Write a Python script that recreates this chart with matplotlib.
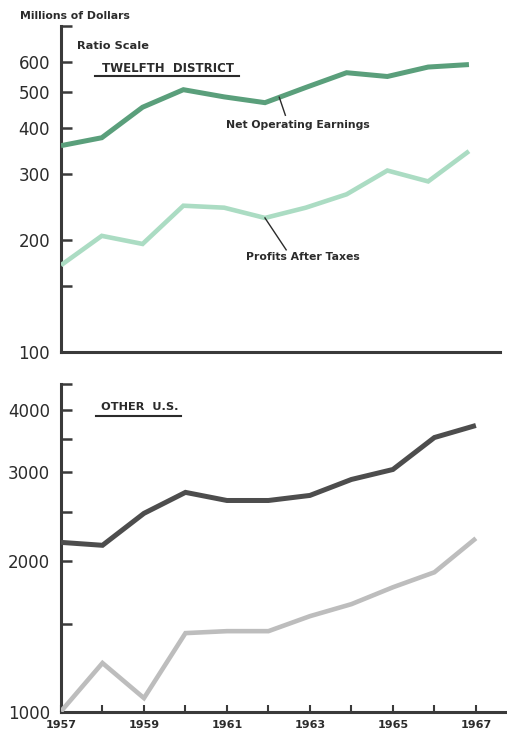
import numpy as np
import matplotlib
matplotlib.use("Agg")
import matplotlib.pyplot as plt
from matplotlib.ticker import NullLocator, FixedLocator, FixedFormatter

years = list(range(1957, 1968))

# Twelfth District, millions of dollars
twelfth_net = [358, 376, 454, 506, 484, 467, 513, 562, 549, 582, 591]
twelfth_profit = [171, 205, 195, 247, 244, 229, 244, 265, 307, 287, 346]

# Other U.S., millions of dollars
other_net = [2177, 2148, 2487, 2738, 2638, 2638, 2700, 2905, 3041, 3521, 3721]
other_profit = [1003, 1252, 1066, 1436, 1449, 1449, 1552, 1640, 1772, 1898, 2218]

top_ticks = [100, 150, 200, 300, 400, 500, 600, 750]
top_labels = ["100", "", "200", "300", "400", "500", "600", ""]
bot_ticks = [1000, 1500, 2000, 2500, 3000, 3500, 4000, 4500]
bot_labels = ["1000", "", "2000", "", "3000", "", "4000", ""]

axis_col = "#3a3a3a"
text_col = "#2b2b2b"

fig = plt.figure(figsize=(5.07, 7.33), dpi=100)
ax1 = fig.add_axes([0.1203, 0.5198, 0.865, 0.4447])
ax2 = fig.add_axes([0.1203, 0.0286, 0.8797, 0.4475])


def style(ax, ticks, labels, lo, hi):
    ax.set_yscale("log")
    ax.set_ylim(lo, hi)
    ax.set_xlim(1957, 1967.75)
    ax.yaxis.set_major_locator(FixedLocator(ticks))
    ax.yaxis.set_major_formatter(FixedFormatter(labels))
    ax.yaxis.set_minor_locator(NullLocator())
    for s in ["top", "right"]:
        ax.spines[s].set_visible(False)
    for s in ["left", "bottom"]:
        ax.spines[s].set_color(axis_col)
        ax.spines[s].set_linewidth(2.2)
    ax.tick_params(axis="y", direction="in", length=8, width=1.8,
                   color=axis_col, labelsize=12, labelcolor=text_col, pad=8)


style(ax1, top_ticks, top_labels, 100, 750)
style(ax2, bot_ticks, bot_labels, 1000, 4500)

ax1.tick_params(axis="x", length=0, labelbottom=False)
ax2.set_xticks(years)
ax2.set_xticklabels([str(y) if y % 2 == 1 else "" for y in years],
                    fontsize=8, fontweight="bold", color=text_col)
ax2.tick_params(axis="x", direction="in", length=5, width=1.5,
                color=axis_col, pad=6)

# lines
ax1.plot(years, twelfth_net, color="#5a9f7b", lw=3.6, solid_joinstyle="miter",
         solid_capstyle="butt", zorder=3)
ax1.plot(years, twelfth_profit, color="#abdcc3", lw=3.3, solid_joinstyle="miter",
         solid_capstyle="butt", zorder=3)
ax2.plot(years, other_net, color="#4d4d4d", lw=3.6, solid_joinstyle="miter",
         solid_capstyle="butt", zorder=3)
ax2.plot(years, other_profit, color="#bdbdbd", lw=3.3, solid_joinstyle="miter",
         solid_capstyle="butt", zorder=3)

# headings
fig.text(20 / 507, 1 - 16 / 733, "Millions of Dollars", fontsize=7.8,
         fontweight="bold", color=text_col, va="center")
ax1.text(0.037, 0.94, "Ratio Scale", transform=ax1.transAxes, fontsize=8.2,
         fontweight="bold", color=text_col, va="center")
ax1.text(0.093, 0.87, "TWELFTH  DISTRICT", transform=ax1.transAxes, fontsize=8.5,
         fontweight="bold", color=text_col, va="center")
ax1.plot([0.078, 0.405], [0.846, 0.846], transform=ax1.transAxes,
         color=text_col, lw=1.5, clip_on=False)
ax2.text(0.09, 0.93, "OTHER  U.S.", transform=ax2.transAxes, fontsize=8.2,
         fontweight="bold", color=text_col, va="center")
ax2.plot([0.078, 0.27], [0.904, 0.904], transform=ax2.transAxes,
         color=text_col, lw=1.5, clip_on=False)

# series labels with leader lines
ax1.plot([1962.35, 1962.5], [483, 432], color=text_col, lw=1, zorder=4)
ax1.text(1962.8, 406, "Net Operating Earnings", fontsize=7.8, fontweight="bold",
         color=text_col, ha="center", va="center")
ax1.plot([1962.0, 1962.52], [229, 188], color=text_col, lw=1, zorder=4)
ax1.text(1962.93, 180, "Profits After Taxes", fontsize=7.8, fontweight="bold",
         color=text_col, ha="center", va="center")

fig.savefig("out.png", dpi=100)
